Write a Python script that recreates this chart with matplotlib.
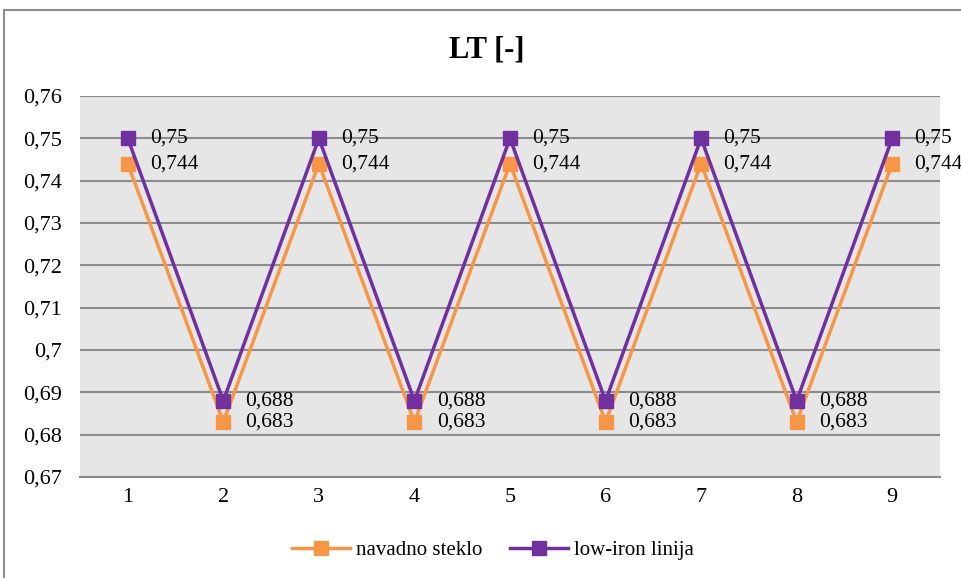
import matplotlib
matplotlib.use("Agg")
import matplotlib.pyplot as plt
from matplotlib.patches import Rectangle

categories = [1, 2, 3, 4, 5, 6, 7, 8, 9]
navadno = [0.744, 0.683, 0.744, 0.683, 0.744, 0.683, 0.744, 0.683, 0.744]
lowiron = [0.75, 0.688, 0.75, 0.688, 0.75, 0.688, 0.75, 0.688, 0.75]
yticks = [0.67, 0.68, 0.69, 0.70, 0.71, 0.72, 0.73, 0.74, 0.75, 0.76]

plt.rcParams['font.family'] = ['Liberation Serif', 'DejaVu Serif']

fig = plt.figure(figsize=(9.61, 5.78), dpi=100)
ax = fig.add_axes([80/961, 1-477/578, 860/961, 381/578])
ax.set_facecolor('#E6E6E6')

orange = '#F79646'
purple = '#7030A0'

ax.plot(categories, navadno, color=orange, lw=2.5, marker='s', ms=10, label='navadno steklo', zorder=3)
ax.plot(categories, lowiron, color=purple, lw=2.5, marker='s', ms=10, label='low-iron linija', zorder=4)

def fmt(v):
    s = ('%.3f' % v).rstrip('0').rstrip('.')
    return s.replace('.', ',')

for x, v in zip(categories, navadno):
    ax.annotate(fmt(v), (x, v), xytext=(16, 0), textcoords='offset points',
                va='center', ha='left', fontsize=15.5, zorder=5)
for x, v in zip(categories, lowiron):
    ax.annotate(fmt(v), (x, v), xytext=(16, 0), textcoords='offset points',
                va='center', ha='left', fontsize=15.5, zorder=5)

ax.set_xlim(0.5, 9.5)
ax.set_ylim(0.67, 0.76)
ax.set_yticks(yticks)
ax.set_yticklabels([fmt(t) if t != 0.70 else '0,7' for t in yticks], fontsize=16)
ax.set_xticks(categories)
ax.set_xticklabels([str(c) for c in categories], fontsize=16)
ax.grid(axis='y', color='#8C8C8C', lw=1.5)
ax.set_axisbelow(True)
for s in ['top', 'left', 'right']:
    ax.spines[s].set_visible(False)
ax.spines['bottom'].set_color('#8C8C8C')
ax.spines['bottom'].set_linewidth(1.5)
ax.tick_params(axis='y', length=0, pad=13)
ax.tick_params(axis='x', length=0, pad=8)

fig.text(487/961, 1-50/578, 'LT [-]', ha='center', va='center', fontsize=22, fontweight='bold')

leg = fig.legend(loc='center', bbox_to_anchor=(493/961, 1-550/578), ncol=2, frameon=False,
                 fontsize=15, handlelength=2.8, columnspacing=1.3, handletextpad=0.3)

fig.patches.append(Rectangle((4/961, -0.02), 1.0, 1-10/578+0.02, transform=fig.transFigure,
                             fill=False, edgecolor='#8C8C8C', lw=1.5))

fig.savefig('out.png', dpi=100)
